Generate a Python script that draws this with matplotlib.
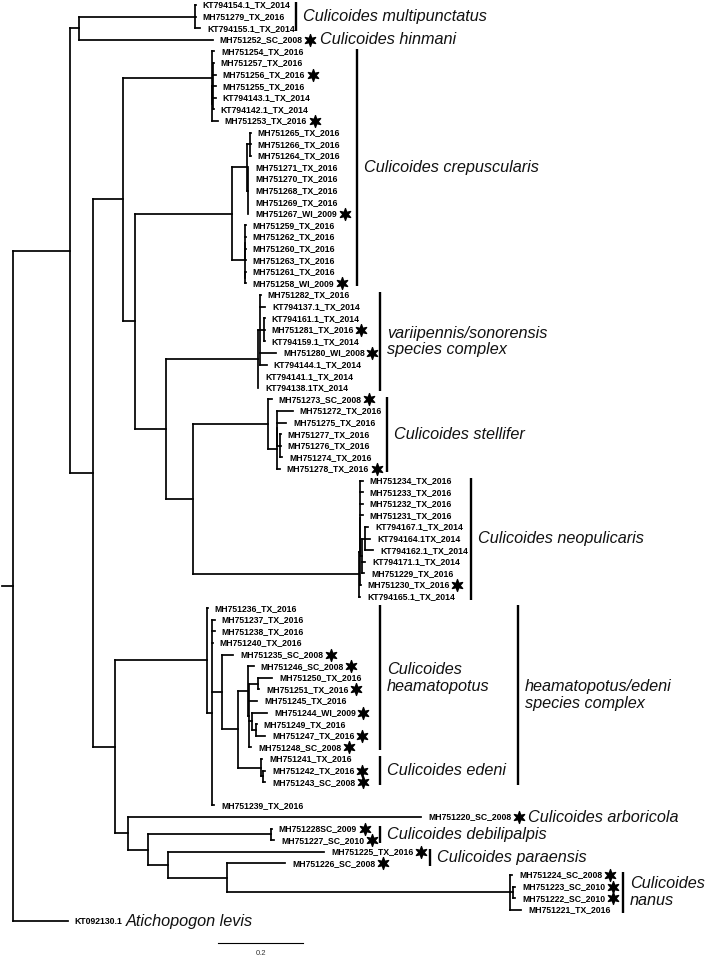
import numpy as np
import matplotlib
matplotlib.use("Agg")
import matplotlib.pyplot as plt
from matplotlib import font_manager
from matplotlib.collections import LineCollection
from matplotlib.path import Path

# tree pieces (newick, branch lengths in substitutions/site)
multipunctatus = "(KT794154.1_TX_2014:0.002,MH751279_TX_2016:0.002,KT794155.1_TX_2014:0.012)"
crep_a = ("(MH751254_TX_2016:0.005,((MH751257_TX_2016:0.002,MH751256_TX_2016:0.007,"
          "MH751255_TX_2016:0.007,KT794143.1_TX_2014:0.007,KT794142.1_TX_2014:0.002):0.001,"
          "MH751253_TX_2016:0.013):0.001)")
crep_b = ("(((MH751265_TX_2016:0.002,MH751266_TX_2016:0.002,MH751264_TX_2016:0.002):0.007,"
          "(MH751271_TX_2016:0.002,MH751270_TX_2016:0.002,MH751268_TX_2016:0.002,"
          "MH751269_TX_2016:0.002,MH751267_WI_2009:0.002):0.002):0.035,"
          "((MH751259_TX_2016:0.001,MH751262_TX_2016:0.001,MH751260_TX_2016:0.001,"
          "MH751263_TX_2016:0.001):0.001,(MH751261_TX_2016:0.001,MH751258_WI_2009:0.001):0.001):0.031)")
variipennis = ("((MH751282_TX_2016:0.002,KT794137.1_TX_2014:0.012,(KT794161.1_TX_2014:0.002,"
               "MH751281_TX_2016:0.002,KT794159.1_TX_2014:0.002):0.009,MH751280_WI_2008:0.038,"
               "KT794144.1_TX_2014:0.016):0.005,KT794141.1_TX_2014:0.001,KT794138.1TX_2014:0.001)")
stellifer = ("(MH751273_SC_2008:0.009,((MH751272_TX_2016:0.036,MH751275_TX_2016:0.021,"
             "(MH751277_TX_2016:0.002,MH751276_TX_2016:0.002,MH751274_TX_2016:0.005):0.006):0.001,"
             "MH751278_TX_2016:0.007):0.021)")
neopulicaris = ("(((MH751234_TX_2016:0.006,MH751233_TX_2016:0.006,MH751232_TX_2016:0.006,"
                "MH751231_TX_2016:0.006,((KT794167.1_TX_2014:0.007,KT794164.1TX_2014:0.012,"
                "KT794162.1_TX_2014:0.019):0.009,KT794171.1_TX_2014:0.009,MH751229_TX_2016:0.007):0.003):0.001,"
                "MH751230_TX_2016:0.002):0.001,KT794165.1_TX_2014:0.002)")
heamatopotus = ("(MH751236_TX_2016:0.002,(MH751237_TX_2016:0.007,MH751238_TX_2016:0.007,"
                "MH751240_TX_2016:0.002,(MH751235_SC_2008:0.026,((MH751246_SC_2008:0.012,"
                "((MH751250_TX_2016:0.033,MH751251_TX_2016:0.002):0.021,MH751245_TX_2016:0.019,"
                "(MH751244_WI_2009:0.035,(MH751249_TX_2016:0.001,MH751247_TX_2016:0.021):0.009):0.007,"
                "MH751248_SC_2008:0.005):0.002):0.024,(MH751241_TX_2016:0.002,(MH751242_TX_2016:0.005,"
                "MH751243_SC_2008:0.005):0.005):0.054):0.038):0.024,MH751239_TX_2016:0.005):0.012)")
lower_clades = ("(MH751220_SC_2008:0.689,((MH751228SC_2009:0.002,MH751227_SC_2010:0.007):0.289,"
                "(MH751225_TX_2016:0.367,(MH751226_SC_2008:0.136,(MH751224_SC_2008:0.005,"
                "(MH751223_SC_2010:0.005,MH751222_SC_2010:0.005):0.007,MH751221_TX_2016:0.026):0.666):0.139):0.047):0.047)")

tree_newick = ("(((" + multipunctatus + ":0.273,MH751252_SC_2008:0.315):0.021,((" + crep_a + ":0.209,("
               + crep_b + ":0.228,(" + variipennis + ":0.216,(" + stellifer + ":0.176," + neopulicaris
               + ":0.391):0.064):0.073):0.028):0.071,(" + heamatopotus + ":0.216," + lower_clades
               + ":0.031):0.052):0.054):0.134,KT092130.1:0.129);")
root_edge = 0.026
row_gap_after = ["MH751243_SC_2008"]

starred = ["MH751252_SC_2008", "MH751256_TX_2016", "MH751253_TX_2016", "MH751267_WI_2009",
           "MH751258_WI_2009", "MH751281_TX_2016", "MH751280_WI_2008", "MH751273_SC_2008",
           "MH751278_TX_2016", "MH751230_TX_2016", "MH751235_SC_2008", "MH751246_SC_2008",
           "MH751251_TX_2016", "MH751244_WI_2009", "MH751247_TX_2016", "MH751248_SC_2008",
           "MH751242_TX_2016", "MH751243_SC_2008", "MH751220_SC_2008", "MH751228SC_2009",
           "MH751227_SC_2010", "MH751225_TX_2016", "MH751226_SC_2008", "MH751224_SC_2008",
           "MH751223_SC_2010", "MH751222_SC_2010"]

clade_labels = ["Culicoides multipunctatus", "Culicoides crepuscularis",
                "variipennis/sonorensis\nspecies complex", "Culicoides stellifer",
                "Culicoides neopulicaris", "Culicoides\nheamatopotus", "Culicoides edeni",
                "heamatopotus/edeni\nspecies complex", "Culicoides debilipalpis",
                "Culicoides paraensis", "Culicoides\nnanus"]
clade_first = ["KT794154.1_TX_2014", "MH751254_TX_2016", "MH751282_TX_2016", "MH751273_SC_2008",
               "MH751234_TX_2016", "MH751236_TX_2016", "MH751241_TX_2016", "MH751236_TX_2016",
               "MH751228SC_2009", "MH751225_TX_2016", "MH751224_SC_2008"]
clade_last = ["KT794155.1_TX_2014", "MH751258_WI_2009", "KT794138.1TX_2014", "MH751278_TX_2016",
              "KT794165.1_TX_2014", "MH751248_SC_2008", "MH751243_SC_2008", "MH751243_SC_2008",
              "MH751227_SC_2010", "MH751226_SC_2008", "MH751221_TX_2016"]

# species written straight after a single tip
inline_tips = ["MH751252_SC_2008", "MH751220_SC_2008", "KT092130.1"]
inline_labels = ["Culicoides hinmani", "Culicoides arboricola", "Atichopogon levis"]

scale_len = 0.2


def parse(s):
    pos = 0

    def node():
        nonlocal pos
        kids = []
        if s[pos] == "(":
            pos += 1
            while True:
                kids.append(node())
                if s[pos] == ",":
                    pos += 1
                else:
                    break
            pos += 1
        start = pos
        while pos < len(s) and s[pos] not in ",);":
            pos += 1
        name, _, length = s[start:pos].partition(":")
        return {"name": name, "len": float(length) if length else 0.0, "kids": kids}

    return node()


root = parse(tree_newick)
leaves = []
row = [0]


def layout(n, depth):
    n["x"] = depth + n["len"]
    if n["kids"]:
        for k in n["kids"]:
            layout(k, n["x"])
        n["y"] = (n["kids"][0]["y"] + n["kids"][-1]["y"]) / 2
    else:
        n["y"] = row[0]
        row[0] += 2 if n["name"] in row_gap_after else 1
        leaves.append(n)


layout(root, 0.0)
leaf = {n["name"]: n for n in leaves}

segs = [[(-root_edge, root["y"]), (0, root["y"])]]


def collect(n):
    if n["kids"]:
        segs.append([(n["x"], n["kids"][0]["y"]), (n["x"], n["kids"][-1]["y"])])
        for k in n["kids"]:
            segs.append([(n["x"], k["y"]), (k["x"], k["y"])])
            collect(k)


collect(root)

names = {f.name for f in font_manager.fontManager.ttflist}
if "Liberation Sans Narrow" in names:
    tip_font, tip_size = "Liberation Sans Narrow", 7.4
else:
    tip_font, tip_size = "Liberation Sans", 6.2

# six pointed star marker
ang = np.pi / 2 + np.arange(12) * np.pi / 6
rad = np.where(np.arange(12) % 2 == 0, 1.0, 0.42)
star = Path(np.column_stack([rad * np.cos(ang), rad * np.sin(ang)]).tolist() + [[0, 1]], closed=True)

fig = plt.figure(figsize=(7.09, 9.58), dpi=100)
ax = fig.add_axes([0, 0, 1, 1])
ax.axis("off")
ax.set_xlim(-13 / 425, 696 / 425)
ax.set_ylim(953 / 11.6, -5 / 11.6)

ax.add_collection(LineCollection(segs, colors="black", linewidths=1.25, capstyle="projecting"))

labels = {}
for n in leaves:
    labels[n["name"]] = ax.annotate(n["name"], (n["x"], n["y"]), xytext=(5, 0),
                                    textcoords="offset points", ha="left", va="center",
                                    fontfamily=tip_font, fontweight="bold", fontsize=tip_size)

# stars go just after the tip label, so measure the labels first
fig.canvas.draw()
to_data = ax.transData.inverted()
stars = {}
for name in starred:
    bb = labels[name].get_window_extent()
    sx_, _ = to_data.transform((bb.x1 + 7.5, bb.y0))
    stars[name], = ax.plot(sx_, leaf[name]["y"], linestyle="none", marker=star,
                           markersize=8.5, color="black")

sp_font = dict(fontfamily="Liberation Sans", style="italic", fontsize=11.7, color="#111111")

bar_x = [0.666, 0.809, 0.864, 0.880, 1.078, 0.864, 0.864, 1.188, 0.864, 0.981, 1.435]
for lab, a, b, bx in zip(clade_labels, clade_first, clade_last, bar_x):
    y0, y1 = leaf[a]["y"] - 0.25, leaf[b]["y"] + 0.25
    ax.plot([bx, bx], [y0, y1], color="black", lw=1.7, solid_capstyle="butt")
    ax.annotate(lab, (bx, (y0 + y1) / 2), xytext=(5, 0), textcoords="offset points",
                ha="left", va="center", linespacing=1.15, **sp_font)

for tip, lab in zip(inline_tips, inline_labels):
    anchor = stars.get(tip, labels[tip])
    ax.annotate(lab, (1, 0.5), xycoords=anchor, xytext=(2.5, 0), textcoords="offset points",
                ha="left", va="center", **sp_font)

# scale bar
sx = 205 / 425
sy = leaf["KT092130.1"]["y"] + 1.9
ax.plot([sx, sx + scale_len], [sy, sy], color="black", lw=0.8)
ax.text(sx + scale_len / 2, sy + 0.85, str(scale_len), ha="center", va="center",
        fontfamily="Liberation Sans", fontsize=5.5, color="#333333")

fig.savefig("out.png", dpi=100)
